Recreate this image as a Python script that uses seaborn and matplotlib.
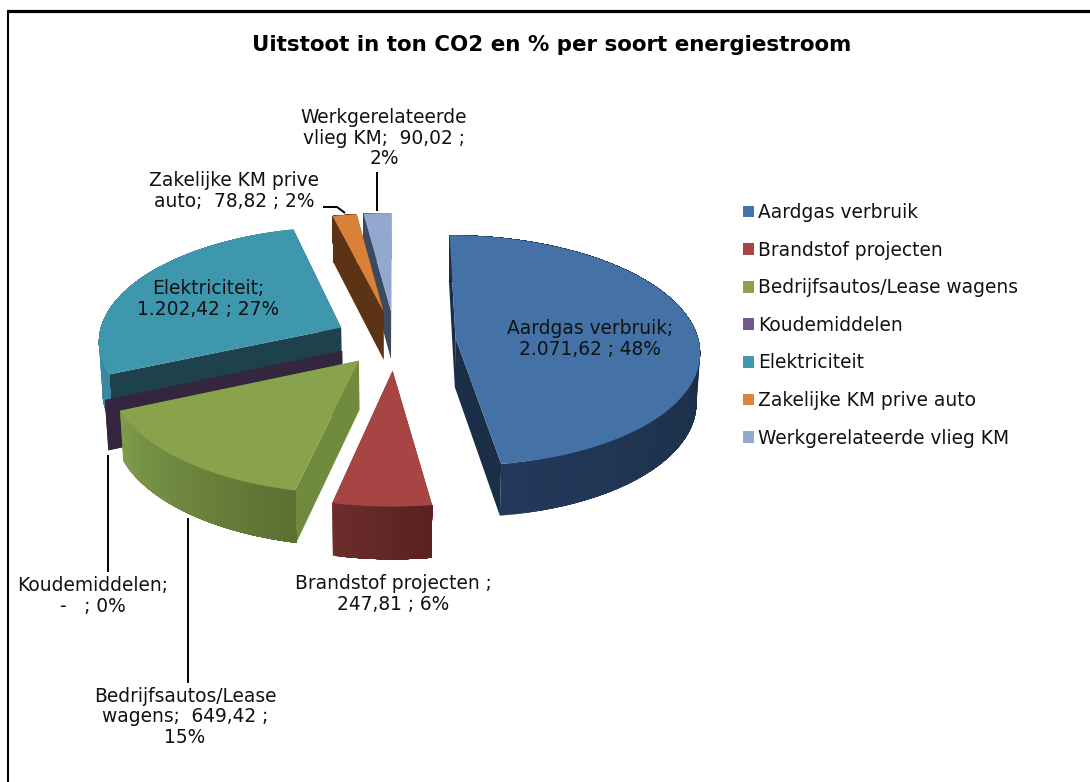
import numpy as np
import matplotlib
matplotlib.use("Agg")
import matplotlib.pyplot as plt
from matplotlib.patches import Patch
from matplotlib.transforms import Transform
from matplotlib.colors import to_rgb
import seaborn as sns

# ---- data ----
categories = ["Aardgas verbruik", "Brandstof projecten", "Bedrijfsautos/Lease wagens",
              "Koudemiddelen", "Elektriciteit", "Zakelijke KM prive auto", "Werkgerelateerde vlieg KM"]
values = [2071.62, 247.81, 649.42, 0.0, 1202.42, 78.82, 90.02]
value_labels = ["2.071,62", "247,81", "649,42", "-  ", "1.202,42", "78,82", "90,02"]
percent_labels = ["48%", "6%", "15%", "0%", "27%", "2%", "2%"]
title = "Uitstoot in ton CO2 en % per soort energiestroom"

# ---- style ----
colors = ["#4472A6", "#A64543", "#88A34C", "#35263F", "#3F97AE", "#DA8139", "#92A8CF"]
legend_colors = ["#4472A6", "#A64543", "#88A34C", "#71588F", "#4198AF", "#DB843D", "#93A9CF"]
wall_colors = ["#1B2E47", "#5C2321", "#708A3E", "#35263F", "#1D424C", "#5C3415", "#3C4A60"]
rim_start = ["#24395A", "#6C2D2B", "#7F9C4B", "#35263F", "#3F8EA8", "#5C3415", "#3C4A60"]
rim_end = ["#1A2D45", "#592120", "#5C7032", "#35263F", "#3A88A0", "#5C3415", "#3C4A60"]
explode = [0.25, 0.262, 0.23, 0.235, 0.25, 0.262, 0.262]
draw_order = [6, 5, 4, 3, 0, 2, 1]

X0, Y0, R, TILT, PERSP, DEPTH, CONVERGE = 395.0, 340.0, 243.0, 0.47, 0.107, 49.0, 0.012

sns.set_theme(style="white")
plt.rcParams["font.family"] = ["DejaVu Sans"]
TXT = "#111111"
FS = 13.4


def project(u, v, depth=0.0):
    u, v = np.asarray(u, float), np.asarray(v, float)
    s = 1.0 / (1.0 + PERSP * v)
    shrink = 1.0 - CONVERGE * depth / DEPTH
    return X0 + R * u * s * shrink, Y0 - R * TILT * v * s + depth * np.sqrt(s)


class Tilt(Transform):
    input_dims = output_dims = 2

    def transform_non_affine(self, values):
        x, y = project(values[:, 0], values[:, 1])
        return np.column_stack([x, y])


fig = plt.figure(figsize=(10.9, 7.82), dpi=100, facecolor="white")
ax = fig.add_axes([0, 0, 1, 1])
wedges, _ = ax.pie(values, explode=explode, startangle=90, counterclock=False,
                   colors=colors, wedgeprops=dict(linewidth=0), normalize=True)
ax.set_aspect("auto")
ax.set_xlim(0, 1090)
ax.set_ylim(782, 0)
ax.set_axis_off()
data_tf = Tilt() + ax.transData

for rank, i in enumerate(draw_order):
    w = wedges[i]
    cx, cy = w.center
    base = 10 + rank * 4
    t = np.radians(np.linspace(w.theta1, w.theta2, 61))
    us, vs = cx + np.cos(t), cy + np.sin(t)
    # radial cut walls
    for th in (t[0], t[-1]):
        eu, ev = cx + np.cos(th), cy + np.sin(th)
        x1, y1 = project([cx, eu], [cy, ev])
        x2, y2 = project([eu, cx], [ev, cy], DEPTH)
        ax.fill(np.r_[x1, x2], np.r_[y1, y2], color=wall_colors[i], lw=0, zorder=base)
    # curved rim, shaded along the arc: each piece runs to the arc's end, so no seams show
    a, b = np.array(to_rgb(rim_start[i])), np.array(to_rgb(rim_end[i]))
    n = len(t) - 1
    for j in range(n):
        f = j / max(n - 1, 1)
        if i == 0:
            f = min(1.0, j / (n * 0.5))
        col = a + (b - a) * f
        x1, y1 = project(us[j:], vs[j:])
        x2, y2 = project(us[j:][::-1], vs[j:][::-1], DEPTH)
        ax.fill(np.r_[x1, x2], np.r_[y1, y2], color=col, lw=0, zorder=base + 1)
    w.set_transform(data_tf)
    w.set_zorder(base + 2)

# chart frame: top and left edges only, the rest is cut off by the picture
ax.plot([7, 1090], [11, 11], color="black", lw=2.3, zorder=1, solid_capstyle="butt")
ax.plot([8, 8], [10, 782], color="black", lw=1.5, zorder=1, solid_capstyle="butt")

# leader lines
leaders = [([108, 108], [455, 572]), ([188, 188], [518, 683]), ([377, 377], [172, 211]),
           ([323, 337, 345], [207, 207, 213])]
for lx, ly in leaders:
    ax.plot(lx, ly, color="black", lw=1.4, zorder=5, solid_capstyle="butt")

# data labels
ax.text(552, 45, title, ha="center", va="center", fontsize=15.4, fontweight="bold", color="black")
label_lines = [
    f"{categories[0]};\n{value_labels[0]} ; {percent_labels[0]}",
    f"{categories[1]} ;\n{value_labels[1]} ; {percent_labels[1]}",
    f"Bedrijfsautos/Lease\nwagens;  {value_labels[2]} ;\n{percent_labels[2]}",
    f"{categories[3]};\n{value_labels[3]} ; {percent_labels[3]}",
    f"{categories[4]};\n{value_labels[4]} ; {percent_labels[4]}",
    f"Zakelijke KM prive\nauto;  {value_labels[5]} ; {percent_labels[5]}",
    f"Werkgerelateerde\nvlieg KM;  {value_labels[6]} ;\n{percent_labels[6]}",
]
label_pos = [(590, 339), (393, 594), (185, 717), (93, 596), (208, 299), (234, 191), (384, 138)]
for s, (px, py) in zip(label_lines, label_pos):
    ax.text(px, py, s, ha="center", va="center", fontsize=FS, color=TXT, linespacing=1.09, zorder=80)

# legend
handles = [Patch(facecolor=c, edgecolor="none") for c in legend_colors]
fig.legend(handles, categories, loc="upper left", bbox_to_anchor=(743 / 1090, 1 - 203 / 782),
           bbox_transform=fig.transFigure, frameon=False, fontsize=FS, labelcolor=TXT,
           handlelength=0.6, handleheight=0.6, handletextpad=0.21, labelspacing=1.0,
           borderpad=0, borderaxespad=0)

fig.savefig("out.png", dpi=100, facecolor="white")
